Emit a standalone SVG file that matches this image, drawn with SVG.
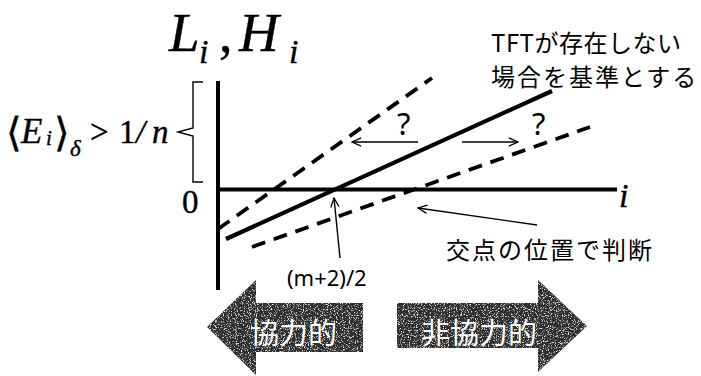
<svg xmlns="http://www.w3.org/2000/svg" width="701" height="376" viewBox="0 0 701 376">
<style>
.serif{font-family:"Liberation Serif","Times New Roman",serif;fill:#000;stroke:#000;stroke-width:0.4}
.it{font-style:italic}
.jp{font-family:"Noto Sans CJK JP","Noto Sans",sans-serif;fill:#000}
.sans{font-family:"Noto Sans","Liberation Sans",sans-serif;fill:#000}
.axis{stroke:#000;stroke-width:4;fill:none;stroke-linecap:butt}
.solid{stroke:#000;stroke-width:4.2;fill:none}
.dash{stroke:#000;stroke-width:3.8;fill:none;stroke-dasharray:14 9}
.thin{stroke:#000;stroke-width:1.4;fill:none}
.big{fill:#2e2e2e}
.wt{font-family:"Noto Sans CJK JP",sans-serif;fill:#fff;font-size:29px}
</style>
<defs>
<marker id="open" viewBox="0 0 12 12" refX="11" refY="6" markerWidth="11" markerHeight="11" markerUnits="userSpaceOnUse" orient="auto">
<path d="M1,1.5 L11,6 L1,10.5" fill="none" stroke="#000" stroke-width="1.4"/>
</marker>
<filter id="grain" x="0" y="0" width="100%" height="100%">
<feTurbulence type="fractalNoise" baseFrequency="0.85" numOctaves="2" seed="4" result="n"/>
<feColorMatrix in="n" type="matrix" values="0 0 0 0 1  0 0 0 0 1  0 0 0 0 1  4 0 0 0 -2.2" result="w"/>
<feComposite in="w" in2="SourceGraphic" operator="in" result="wc"/>
<feMerge><feMergeNode in="SourceGraphic"/><feMergeNode in="wc"/></feMerge>
</filter>
</defs>

<g id="title">
<text class="serif it" font-size="55" x="169" y="51">L</text>
<text class="serif it" font-size="34" x="199" y="63">i</text>
<text class="serif" font-size="54" x="219" y="52">,</text>
<text class="serif it" font-size="55" x="239" y="51">H</text>
<text class="serif it" font-size="34" x="289" y="63">i</text>
</g>

<g id="axes">
<line class="axis" x1="218" y1="81" x2="218" y2="290"/>
<line class="axis" x1="216" y1="189.5" x2="617" y2="189.5"/>
<text class="serif it" font-size="34" x="619" y="207">i</text>
<text class="serif" font-size="33" x="182" y="213">0</text>
</g>

<g id="condition">
<text class="serif" font-size="40" x="6" y="146" font-family="DejaVu Serif" stroke-width="0.3">⟨</text>
<text class="serif it" font-size="35" x="21" y="143">E</text>
<text class="serif it" font-size="21" x="46" y="145">i</text>
<text class="serif" font-size="40" x="54" y="146" font-family="DejaVu Serif" stroke-width="0.3">⟩</text>
<text class="serif it" font-size="23" x="70" y="156">δ</text>
<text class="serif" font-size="33" x="90" y="143">&gt;</text>
<text class="serif" font-size="33" x="119" y="143">1</text>
<text class="serif it" font-size="33" x="136" y="143">/</text>
<text class="serif it" font-size="33" x="152" y="143">n</text>
<path class="thin" d="M203,82 H193 V128 L178,132 L193,136 V182 H203" stroke-width="1.6"/>
</g>

<g id="lines">
<line class="solid" x1="226" y1="239" x2="552" y2="91"/>
<line class="dash" x1="218" y1="229" x2="432" y2="78"/>
<line class="dash" x1="252" y1="247" x2="590" y2="127"/>
</g>

<g id="connectors">
<line class="thin" x1="418" y1="142" x2="352" y2="142" marker-end="url(#open)"/>
<line class="thin" x1="462" y1="142" x2="518" y2="142" marker-end="url(#open)"/>
<line class="thin" x1="537" y1="225" x2="418" y2="208" marker-end="url(#open)"/>
<line class="thin" x1="340" y1="258" x2="334" y2="198" marker-end="url(#open)"/>
</g>

<g id="labels">
<text class="sans" font-size="31" x="397" y="135">?</text>
<text class="sans" font-size="31" x="532" y="135">?</text>
<text class="jp" font-size="24" x="491" y="52" letter-spacing="0.5">TFTが存在しない</text>
<text class="jp" font-size="24" x="491" y="86" letter-spacing="2">場合を基準とする</text>
<text class="jp" font-size="24" x="446" y="259" letter-spacing="2">交点の位置で判断</text>
<text class="sans" font-size="22" x="287" y="286">(m+2)/2</text>
</g>

<g id="coop">
<polygon class="big" filter="url(#grain)" points="207,327 256,280 256,303 363,303 363,352 256,352 256,375"/>
<text class="wt" x="250" y="344">協力的</text>
</g>

<g id="noncoop">
<polygon class="big" filter="url(#grain)" points="397,303 538,303 538,280 587,326 538,372 538,348 397,348"/>
<text class="wt" x="421" y="344">非協力的</text>
</g>
</svg>
